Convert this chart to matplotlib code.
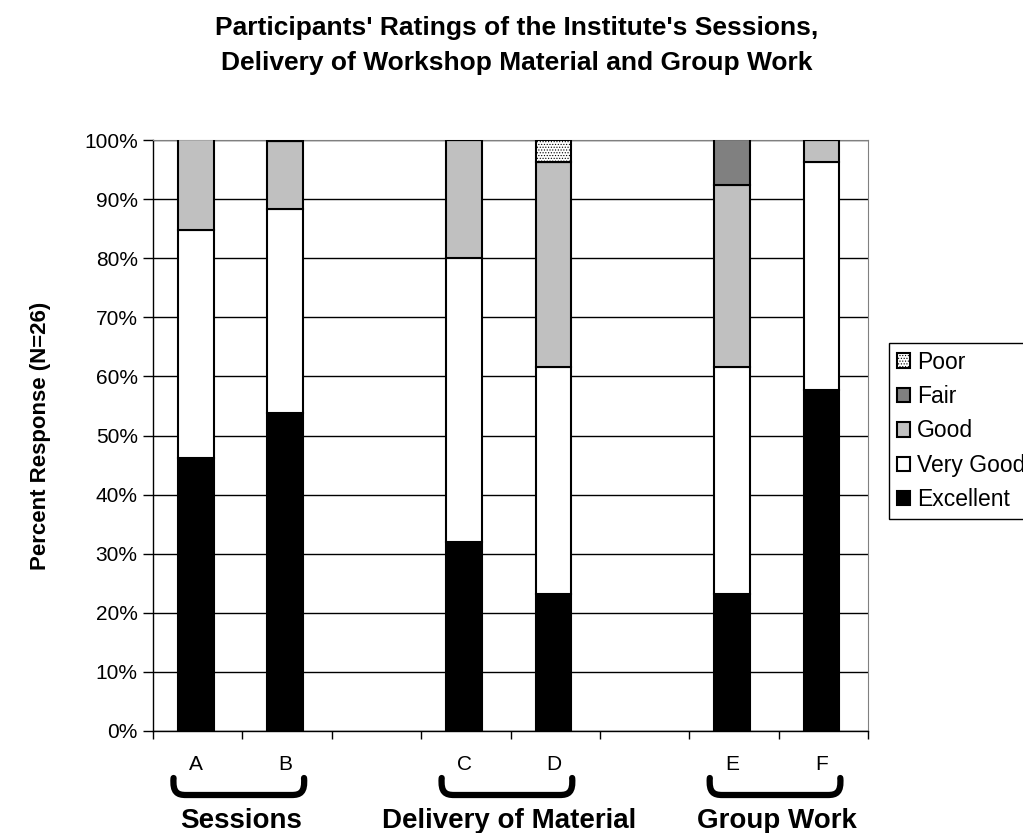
import matplotlib.pyplot as plt
import matplotlib.transforms as mtransforms
from matplotlib.path import Path
from matplotlib.patches import PathPatch
import numpy as np

plt.rcParams['font.family'] = ['Liberation Sans', 'DejaVu Sans']
plt.rcParams['hatch.color'] = '#b4b4b4'
plt.rcParams['hatch.linewidth'] = 0.5

cats = ['A', 'B', 'C', 'D', 'E', 'F']
slots = [0, 1, 3, 4, 6, 7]
excellent = [46.2, 53.8, 32.0, 23.1, 23.1, 57.7]
very_good = [38.5, 34.6, 48.0, 38.5, 38.5, 38.5]
good = [15.4, 11.5, 20.0, 34.6, 30.8, 3.8]
fair = [0, 0, 0, 0, 7.7, 0]
poor = [0, 0, 0, 3.8, 0, 0]
groups = ['Sessions', 'Delivery of Material', 'Group Work']
pairs = [(0, 1), (3, 4), (6, 7)]

fig = plt.figure(figsize=(10.23, 8.33), dpi=100)
ax = fig.add_axes([153 / 1023, 1 - 731 / 833, 715 / 1023, 591 / 833])

series = [
    ('Excellent', excellent, dict(color='black')),
    ('Very Good', very_good, dict(color='white')),
    ('Good', good, dict(color='#c0c0c0')),
    ('Fair', fair, dict(color='#808080')),
    ('Poor', poor, dict(color='white', hatch='......')),
]
bottom = np.zeros(len(cats))
handles = []
for name, vals, style in series:
    b = ax.bar(slots, vals, 0.4, bottom=bottom, edgecolor='black',
               linewidth=1.5, label=name, zorder=3, **style)
    handles.append(b)
    bottom += np.array(vals)

ax.set_xlim(-0.48, 7.52)
ax.set_ylim(0, 100)
ax.set_yticks(np.arange(0, 101, 10))
ax.set_yticklabels([f'{v}%' for v in range(0, 101, 10)], fontsize=15)
ax.yaxis.grid(True, color='black', linewidth=1.0, zorder=0)
ax.tick_params(axis='y', length=7, width=1.0, direction='out', pad=4)

ax.set_xticks(np.arange(-0.48, 8.0, 1.0))
ax.set_xticklabels([])
ax.tick_params(axis='x', length=6, width=1.0, direction='out')

for sp in ['top', 'right']:
    ax.spines[sp].set_color('#808080')
ax.spines['left'].set_linewidth(1.0)
ax.spines['bottom'].set_linewidth(1.0)

ax.set_ylabel('Percent Response (N=26)', fontsize=16, fontweight='bold', labelpad=24)

fig.text(0.505, 1 - 35 / 833, "Participants' Ratings of the Institute's Sessions,",
         ha='center', va='baseline', fontsize=19, fontweight='bold')
fig.text(0.505, 1 - 70 / 833, "Delivery of Workshop Material and Group Work",
         ha='center', va='baseline', fontsize=19, fontweight='bold')

# category letters, curly brackets and group names below the axis
trans = mtransforms.blended_transform_factory(ax.transData, fig.transFigure)
for s, c in zip(slots, cats):
    ax.text(s, 1 - 764 / 833, c, transform=trans, ha='center', va='center', fontsize=15)

y_top, y_bot = 1 - 778 / 833, 1 - 795 / 833
for (a, b), g in zip(pairs, groups):
    x0, x1 = a - 0.25, b + 0.21
    d = 0.14
    verts = [(x0, y_top), (x0 - 0.012, y_bot + 0.003), (x0 + d * 0.3, y_bot), (x0 + d, y_bot),
             (x1 - d, y_bot),
             (x1 - d * 0.3, y_bot), (x1 + 0.012, y_bot + 0.003), (x1, y_top)]
    codes = [Path.MOVETO, Path.CURVE4, Path.CURVE4, Path.CURVE4,
             Path.LINETO, Path.CURVE4, Path.CURVE4, Path.CURVE4]
    ax.add_patch(PathPatch(Path(verts, codes), transform=trans, fill=False,
                           linewidth=4.5, capstyle='round', joinstyle='round',
                           clip_on=False))
    ax.text((a + b) / 2, 1 - 828 / 833, g, transform=trans, ha='center', va='baseline',
            fontsize=20, fontweight='bold')

leg = fig.legend(handles[::-1], [s[0] for s in series][::-1], loc='upper left',
                 bbox_to_anchor=(889 / 1023, 1 - 343 / 833), fontsize=16.5,
                 frameon=True, fancybox=False, edgecolor='black', framealpha=1,
                 handlelength=0.58, handleheight=0.58, handletextpad=0.3,
                 labelspacing=0.5, borderpad=0.33, borderaxespad=0)
leg.get_frame().set_linewidth(1.0)

fig.savefig('out.png', dpi=100)
